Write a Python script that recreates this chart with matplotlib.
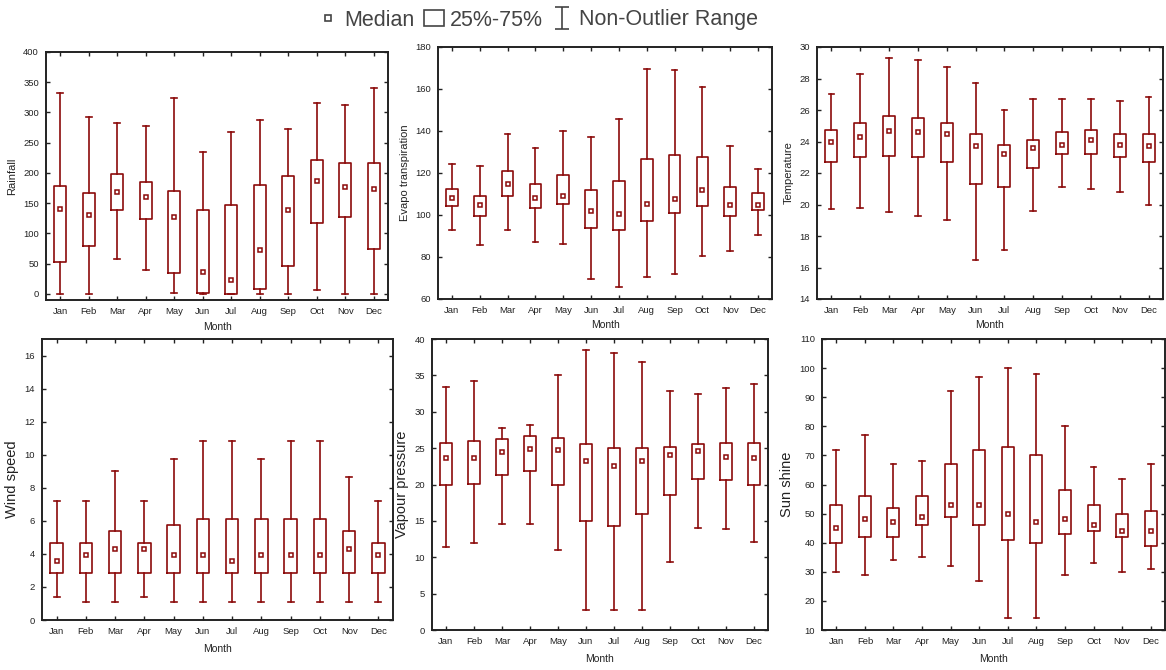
import matplotlib
matplotlib.use("Agg")
import matplotlib.pyplot as plt
from matplotlib.lines import Line2D
from matplotlib.patches import Patch
from matplotlib.path import Path

plt.rcParams['font.family'] = ['Liberation Sans', 'DejaVu Sans']

months = ['Jan', 'Feb', 'Mar', 'Apr', 'May', 'Jun', 'Jul', 'Aug', 'Sep', 'Oct', 'Nov', 'Dec']

# rainfall
rain_low = [0, 0, 58, 39, 1, 0, 0, 0, 0, 7, 0, 0]
rain_q1 = [53, 79, 138, 124, 34, 1, 0, 9, 46, 117, 128, 75]
rain_med = [141, 131, 168, 161, 128, 36, 23, 73, 139, 186, 176, 173]
rain_q3 = [178, 167, 199, 185, 170, 138, 147, 180, 195, 222, 216, 216]
rain_high = [333, 293, 283, 277, 324, 235, 268, 288, 273, 315, 313, 341]

# evapo transpiration
evapo_low = [92.7, 85.7, 92.7, 87.0, 86.0, 69.5, 65.9, 70.6, 72.0, 80.6, 83.0, 90.3]
evapo_q1 = [104.1, 99.7, 109.0, 103.3, 105.1, 93.8, 93.0, 97.3, 100.8, 104.4, 99.7, 102.3]
evapo_med = [108.0, 104.6, 114.6, 108.0, 109.0, 101.7, 100.5, 105.2, 107.4, 111.7, 104.6, 104.6]
evapo_q3 = [112.5, 109.0, 120.8, 114.6, 118.9, 111.9, 116.3, 126.8, 128.4, 127.4, 113.2, 110.5]
evapo_high = [124.3, 123.2, 138.7, 131.7, 140.0, 137.3, 145.6, 169.6, 168.9, 160.8, 132.8, 122.0]

# temperature
temp_low = [19.7, 19.8, 19.5, 19.3, 19.0, 16.5, 17.1, 19.6, 21.1, 21.0, 20.8, 20.0]
temp_q1 = [22.7, 23.0, 23.1, 23.0, 22.7, 21.3, 21.1, 22.3, 23.2, 23.2, 23.0, 22.7]
temp_med = [23.96, 24.28, 24.66, 24.58, 24.47, 23.7, 23.2, 23.58, 23.75, 24.1, 23.75, 23.7]
temp_q3 = [24.7, 25.2, 25.6, 25.5, 25.2, 24.5, 23.8, 24.1, 24.6, 24.7, 24.5, 24.5]
temp_high = [27.0, 28.3, 29.3, 29.2, 28.7, 27.7, 26.0, 26.7, 26.7, 26.7, 26.6, 26.8]

# wind speed
wind_low = [1.41, 1.07, 1.07, 1.41, 1.07, 1.07, 1.07, 1.07, 1.07, 1.07, 1.07, 1.07]
wind_q1 = [2.85] * 12
wind_med = [3.57, 3.91, 4.32, 4.32, 3.91, 3.91, 3.57, 3.91, 3.91, 3.91, 4.32, 3.91]
wind_q3 = [4.68, 4.68, 5.37, 4.68, 5.73, 6.11, 6.11, 6.11, 6.11, 6.11, 5.37, 4.68]
wind_high = [7.2, 7.2, 9.0, 7.2, 9.73, 10.8, 10.8, 9.73, 10.8, 10.8, 8.64, 7.2]

# vapour pressure
vap_low = [11.4, 11.9, 14.6, 14.6, 11.0, 2.8, 2.7, 2.7, 9.3, 14.0, 13.9, 12.1]
vap_q1 = [19.9, 20.1, 21.3, 21.8, 19.9, 15.0, 14.3, 16.0, 18.5, 20.8, 20.6, 19.9]
vap_med = [23.7, 23.7, 24.5, 24.9, 24.8, 23.2, 22.6, 23.2, 24.0, 24.6, 23.8, 23.7]
vap_q3 = [25.7, 26.0, 26.2, 26.6, 26.4, 25.5, 25.0, 25.0, 25.2, 25.5, 25.7, 25.7]
vap_high = [33.4, 34.2, 27.8, 28.2, 35.0, 38.5, 38.1, 36.8, 32.8, 32.4, 33.3, 33.8]

# sun shine
sun_low = [30, 29, 34, 35, 32, 27, 14, 14, 29, 33, 30, 31]
sun_q1 = [40, 42, 42, 46, 49, 46, 41, 40, 43, 44, 42, 39]
sun_med = [45, 48, 47, 49, 53, 53, 50, 47, 48, 46, 44, 44]
sun_q3 = [53, 56, 52, 56, 67, 72, 73, 70, 58, 53, 50, 51]
sun_high = [72, 77, 67, 68, 92, 97, 100, 98, 80, 66, 62, 67]

W, H = 1166, 670
red = '#8b0a0a'

fig = plt.figure(figsize=(W / 100, H / 100), dpi=100)


def make_ax(l, t, r, b):
    return fig.add_axes([l / W, 1 - b / H, (r - l) / W, (b - t) / H])


def draw(ax, low, q1, med, q3, high, ylabel, ylim, yticks, big=False):
    stats = []
    for i in range(len(months)):
        stats.append({'whislo': low[i], 'q1': q1[i], 'med': med[i], 'q3': q3[i],
                      'whishi': high[i], 'mean': med[i], 'fliers': []})
    ax.bxp(stats, positions=range(1, 13), widths=0.42, showmeans=True,
           boxprops=dict(color=red, linewidth=1.2),
           whiskerprops=dict(color=red, linewidth=1.2),
           capprops=dict(color=red, linewidth=1.2),
           capwidths=0.2,
           medianprops=dict(linestyle='none'),
           meanprops=dict(marker='s', markersize=3.3, markerfacecolor='white',
                          markeredgecolor=red, markeredgewidth=1.1))
    ax.set_xlim(0.5, 12.5)
    ax.set_ylim(*ylim)
    ax.set_yticks(yticks)
    ax.set_xticks(range(1, 13))
    ax.set_xticklabels(months)
    ax.tick_params(direction='in', top=True, right=True, labelsize=6.8,
                   length=3, width=1, colors='#222222', pad=5)
    for s in ax.spines.values():
        s.set_linewidth(1.4)
        s.set_color('#222222')
    ax.set_ylabel(ylabel, fontsize=10.5 if big else 8, color='#222222')
    ax.set_xlabel('Month', fontsize=7.5, color='#222222', labelpad=6 if big else 4)


ax1 = make_ax(46, 52, 388, 300)
draw(ax1, rain_low, rain_q1, rain_med, rain_q3, rain_high, 'Rainfall',
     (-10, 400), range(0, 401, 50))
ax2 = make_ax(438, 47, 772, 299)
draw(ax2, evapo_low, evapo_q1, evapo_med, evapo_q3, evapo_high, 'Evapo transpiration',
     (60, 180), range(60, 181, 20))
ax3 = make_ax(817, 47, 1163, 299)
draw(ax3, temp_low, temp_q1, temp_med, temp_q3, temp_high, 'Temperature',
     (14, 30), range(14, 31, 2))
ax4 = make_ax(42, 339, 393, 620)
draw(ax4, wind_low, wind_q1, wind_med, wind_q3, wind_high, 'Wind speed',
     (0, 17), range(0, 17, 2), big=True)
ax5 = make_ax(432, 339, 768, 630)
draw(ax5, vap_low, vap_q1, vap_med, vap_q3, vap_high, 'Vapour pressure',
     (0, 40), range(0, 41, 5), big=True)
ax6 = make_ax(822, 339, 1165, 630)
draw(ax6, sun_low, sun_q1, sun_med, sun_q3, sun_high, 'Sun shine',
     (10, 110), range(10, 111, 10), big=True)

# legend
ibar = Path([(-0.6, 1), (0.6, 1), (0, 1), (0, -1), (-0.6, -1), (0.6, -1)],
            [Path.MOVETO, Path.LINETO, Path.MOVETO, Path.LINETO, Path.MOVETO, Path.LINETO])
handles = [
    Line2D([], [], linestyle='none', marker='s', markersize=5, markerfacecolor='white',
           markeredgecolor='#444444', markeredgewidth=1.2),
    Patch(facecolor='white', edgecolor='#444444', linewidth=1.2),
    Line2D([], [], linestyle='none', marker=ibar, markersize=16, markeredgecolor='#444444',
           markeredgewidth=1.2),
]
fig.legend(handles, ['Median', '25%-75%', 'Non-Outlier Range'], loc='center',
           bbox_to_anchor=(538 / W, 1 - 20 / H), ncol=3, frameon=False, fontsize=15.5,
           handlelength=0.9, handletextpad=0.3, columnspacing=0.45, labelcolor='#444444')

fig.savefig('out.png', dpi=100, facecolor='white')
